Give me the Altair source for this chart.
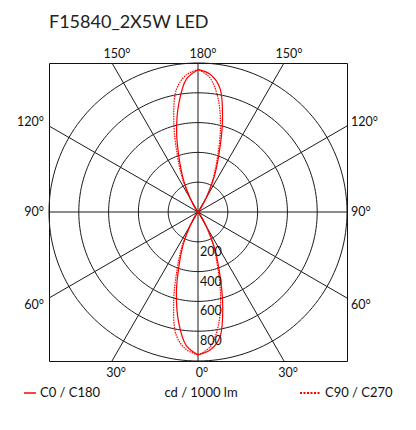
import altair as alt
import pandas as pd

# ---------------- data ----------------
title_text = "F15840_2X5W LED"
gamma = list(range(0, 181, 5))  # deg, 0 = down (nadir), 180 = up
# right half of the solid curve (C0) and left half (C180), cd / 1000 lm
c0 = [958, 930, 850, 640, 415, 255, 118, 43, 13, 3,
      0, 0, 0, 0, 0, 0, 0, 0, 0, 0, 0, 0, 0, 0, 0, 0, 0,
      3, 12, 40, 112, 250, 410, 635, 845, 928, 955]
c180 = [958, 900, 750, 560, 365, 225, 102, 37, 11, 3,
        0, 0, 0, 0, 0, 0, 0, 0, 0, 0, 0, 0, 0, 0, 0, 0, 0,
        3, 10, 35, 98, 220, 360, 555, 740, 895, 955]
# dotted curve: right half (C90) and left half (C270)
c90 = [960, 910, 780, 585, 380, 232, 107, 39, 12, 3,
       0, 0, 0, 0, 0, 0, 0, 0, 0, 0, 0, 0, 0, 0, 0, 0, 0,
       3, 11, 37, 102, 228, 375, 582, 775, 905, 958]
c270 = [960, 925, 840, 632, 410, 252, 116, 42, 13, 3,
        0, 0, 0, 0, 0, 0, 0, 0, 0, 0, 0, 0, 0, 0, 0, 0, 0,
        3, 12, 40, 110, 247, 405, 628, 835, 922, 958]

rings = [200, 400, 600, 800, 1000]
ring_labels = [200, 400, 600, 800]
ray_angles = list(range(0, 360, 30))
legend_solid = "C0 / C180"
legend_dotted = "C90 / C270"
unit_label = "cd / 1000 lm"

FONT = "Lato"
RED = "#ff0000"
GRID = "#1a1a1a"


def curve_df(name, right, left):
    rows = []
    seq = 0
    for g, v in zip(gamma, right):
        rows.append(dict(curve=name, gamma=g, I=v, side=1, seq=seq))
        seq += 1
    for g, v in zip(reversed(gamma), list(reversed(left))):
        rows.append(dict(curve=name, gamma=g, I=v, side=-1, seq=seq))
        seq += 1
    rows.append(dict(curve=name, gamma=gamma[0], I=right[0], side=1, seq=seq))
    return pd.DataFrame(rows)


solid_df = curve_df(legend_solid, c0, c180)
dotted_df = curve_df(legend_dotted, c90, c270)

ring_rows = []
for r in rings:
    for i, t in enumerate(range(0, 361, 2)):
        ring_rows.append(dict(r=r, t=t, seq=i))
ring_df = pd.DataFrame(ring_rows)
ray_df = pd.DataFrame({"phi": ray_angles})
ringlab_df = pd.DataFrame({"r": ring_labels})

xs = alt.Scale(domain=[-1000, 1000], nice=False, zero=False)
ys = alt.Scale(domain=[-1000, 1000], nice=False, zero=False)
X = lambda f: alt.X(f, type="quantitative", scale=xs, axis=None)
Y = lambda f: alt.Y(f, type="quantitative", scale=ys, axis=None)

circles = alt.Chart(ring_df).transform_calculate(
    x="datum.r*sin(datum.t*PI/180)", y="datum.r*cos(datum.t*PI/180)"
).mark_line(color=GRID, strokeWidth=1).encode(
    x=X("x"), y=Y("y"), order="seq:Q", detail="r:N"
)

rays = alt.Chart(ray_df).transform_calculate(
    x0="0", y0="0",
    x1="1600*sin(datum.phi*PI/180)", y1="-1600*cos(datum.phi*PI/180)"
).mark_rule(color=GRID, strokeWidth=1, clip=True).encode(
    x=X("x0"), y=Y("y0"), x2="x1:Q", y2="y1:Q"
)


def curve_layer(df, dash):
    kw = dict(color=RED, strokeWidth=1.2, interpolate="catmull-rom")
    if dash:
        kw["strokeDash"] = dash
    return alt.Chart(df).transform_calculate(
        x="datum.side*datum.I*sin(datum.gamma*PI/180)",
        y="-datum.I*cos(datum.gamma*PI/180)"
    ).mark_line(**kw).encode(x=X("x"), y=Y("y"), order="seq:Q", detail="curve:N")


solid = curve_layer(solid_df, None)
dotted = curve_layer(dotted_df, [1.5, 1])

lab_base = alt.Chart(ray_df).transform_calculate(
    s="sin(datum.phi*PI/180)", c="cos(datum.phi*PI/180)"
).transform_calculate(
    e="1000/max(abs(datum.s), abs(datum.c))",
    lab="min(datum.phi, 360-datum.phi) + '°'"
).transform_calculate(
    ex="datum.e*datum.s", ey="-datum.e*datum.c"
)


def lab_layer(cond, **mk):
    return lab_base.transform_filter(cond).mark_text(
        font=FONT, fontSize=12.5, color="#111", **mk
    ).encode(x=X("ex"), y=Y("ey"), text="lab:N")


labels = [
    lab_layer("datum.c < -0.7", align="center", baseline="alphabetic", dx=5, dy=-5),
    lab_layer("datum.c > 0.7", align="center", baseline="alphabetic", dx=4, dy=16),
    lab_layer("datum.s > 0.7 && datum.c < -0.1", align="left", baseline="alphabetic", dx=4),
    lab_layer("datum.s > 0.7 && abs(datum.c) <= 0.1", align="left", baseline="middle", dx=4),
    lab_layer("datum.s > 0.7 && datum.c > 0.1", align="left", baseline="top", dx=4, dy=1),
    lab_layer("datum.s < -0.7 && datum.c < -0.1", align="right", baseline="alphabetic", dx=-5),
    lab_layer("datum.s < -0.7 && abs(datum.c) <= 0.1", align="right", baseline="middle", dx=-5),
    lab_layer("datum.s < -0.7 && datum.c > 0.1", align="right", baseline="top", dx=-5, dy=1),
]

ring_text = alt.Chart(ringlab_df).transform_calculate(
    x="0", y="-datum.r", lab="datum.r + ''"
).mark_text(font=FONT, fontSize=12.5, color="#111", align="left",
            baseline="alphabetic", dx=2, dy=14).encode(
    x=X("x"), y=Y("y"), text="lab:N"
)

title = alt.Chart(pd.DataFrame({"t": [title_text]})).mark_text(
    font=FONT, fontSize=18, color="#222", align="left", baseline="alphabetic"
).encode(x=alt.value(0), y=alt.value(-35), text="t:N")

leg_y = 330
leg_solid_line = alt.Chart(pd.DataFrame({"k": [0]})).mark_rule(
    color=RED, strokeWidth=1.5
).encode(x=alt.value(-25), x2=alt.value(-13), y=alt.value(leg_y))
leg_dot_line = alt.Chart(pd.DataFrame({"k": [0]})).mark_rule(
    color=RED, strokeWidth=1.8, strokeDash=[2, 1.5]
).encode(x=alt.value(251), x2=alt.value(272), y=alt.value(leg_y))


def leg_text(txt, xpx, align):
    return alt.Chart(pd.DataFrame({"t": [txt]})).mark_text(
        font=FONT, fontSize=13, color="#111", align=align, baseline="middle"
    ).encode(x=alt.value(xpx), y=alt.value(leg_y), text="t:N")


legend = [
    leg_solid_line,
    leg_text(legend_solid, -9, "left"),
    leg_text(unit_label, 152, "center"),
    leg_dot_line,
    leg_text(legend_dotted, 276, "left"),
]

chart = alt.layer(
    circles, rays, solid, dotted, *labels, ring_text, title, *legend
).properties(
    width=298, height=298,
    autosize="none",
    padding={"left": 41, "top": 55, "right": 61, "bottom": 61},
).configure_view(stroke="#111", strokeWidth=1)

chart.save("out.html", embed_options={"renderer": "svg", "actions": False})
